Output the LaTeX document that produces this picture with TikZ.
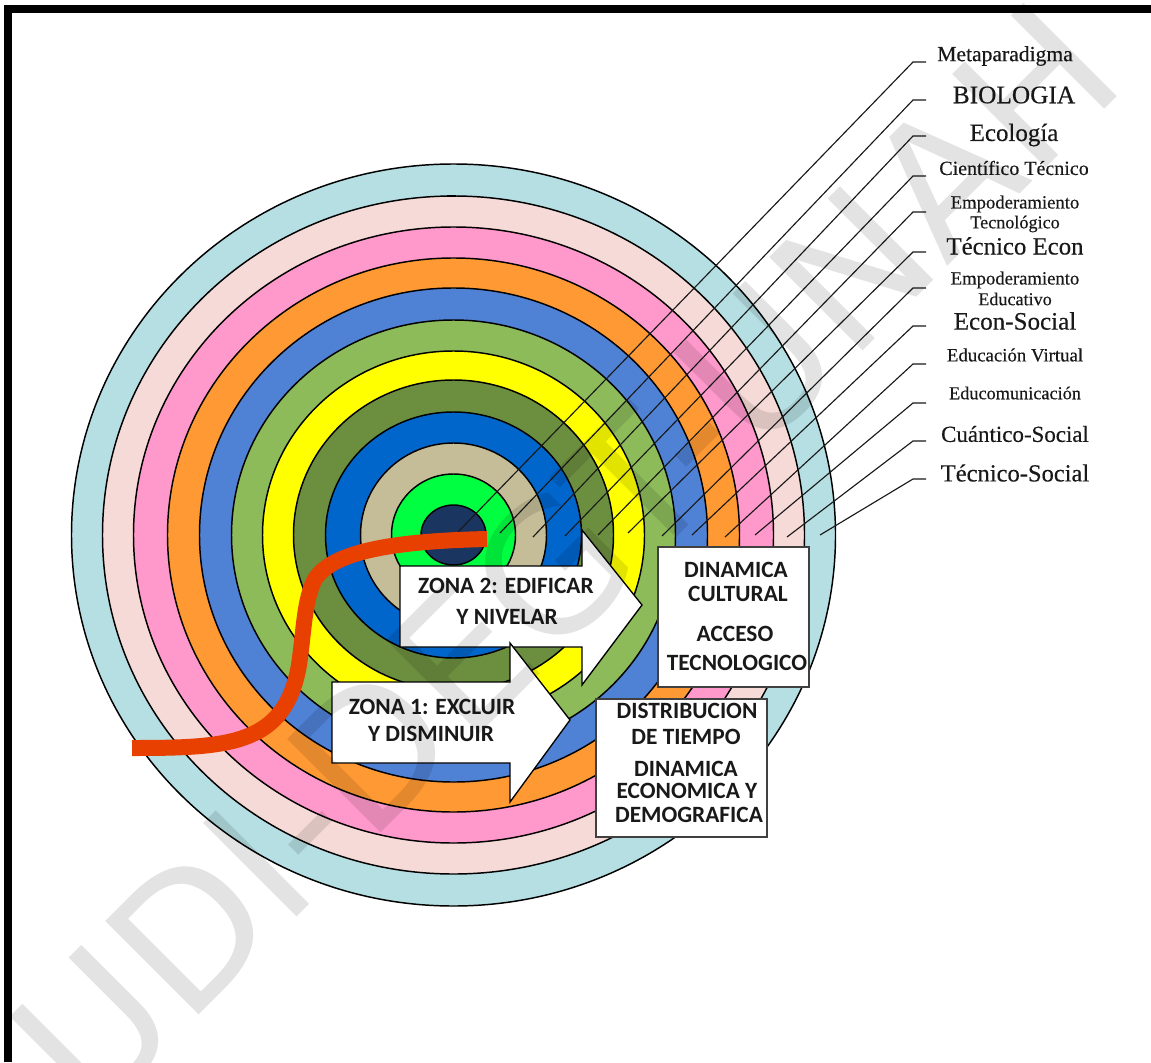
\documentclass[tikz,border=0pt]{standalone}
\usepackage{fontspec}
\setmainfont{Liberation Serif}
\newfontfamily\lblfont{Liberation Serif}[FakeBold=0.35]
\newfontfamily\boxfont{Carlito}[BoldFont={Carlito Bold}]
\newfontfamily\wmfont{DejaVu Sans}
\begin{document}
\begin{tikzpicture}[x=0.75pt,y=-0.75pt,
  ring/.style={draw=black,line width=1.1pt},
  leader/.style={draw=black!90,line width=0.85pt},
  arrowshape/.style={draw=black,line width=1pt,fill=white},
  infobox/.style={draw=black!75,line width=1.1pt,fill=white},
  lbl/.style={inner sep=0pt,font=\lblfont\fontsize{#1}{#1}\selectfont,text=black!90},
  boxtxt/.style={inner sep=0pt,font=\boxfont\bfseries\fontsize{17.5}{17.5}\selectfont,text=black!90},
]
\useasboundingbox (0,0) rectangle (1151,1062);
\fill[white] (0,0) rectangle (1151,1062);
% frame
\fill[black] (4,5) rectangle (1151,13);
\fill[black] (4,5) rectangle (12,1062);
% rings
\foreach \rx/\ry/\c in {382/371/B5DFE3,351/339/F6DAD7,320/308/FF99CC,286/277/FF9933,254/247/4F81D5,222/215/8DBB5A,191/184/FFFF00,160/155/6C8E3F,128/123/0066CC,93/92/C4BD97,62/61/00FF40,32.5/30/1A3560}{
  \definecolor{ringc}{HTML}{\c}
  \draw[ring,fill=ringc] (453.5,535) ellipse [x radius=\rx,y radius=\ry];
}
\draw[line width=1.6pt] (447,196) -- (456,196);
% leaders
\foreach \n/\sy/\ex/\ey in {1/62/458/532,2/100/500/533,3/136/533/537,4/176/565/536,5/212/598/535,6/252/628/533,7/288/662/536,8/326/692/535,9/364/725/537,10/403/755/535,11/441/787/537,12/479/820/535}{
  \coordinate (s\n) at (926,\sy);
  \coordinate (k\n) at (913,\sy);
  \coordinate (e\n) at (\ex,\ey);
  \draw[leader] (s\n) -- (k\n) -- (e\n);
}
% labels
\node[lbl=16.2] (t1) at (1005,56) {Metaparadigma};
\node[lbl=19] (t2) at (1014,95) {BIOLOGIA};
\node[lbl=18.7] (t3) at (1014,135) {Ecología};
\node[lbl=15] (t4) at (1014,168) {Científico Técnico};
\node[lbl=14] (t5a) at (1015,204) {Empoderamiento};
\node[lbl=13.6] (t5b) at (1015,224) {Tecnológico};
\node[lbl=18.6] (t6) at (1015,246) {Técnico Econ};
\node[lbl=14] (t7a) at (1015,280) {Empoderamiento};
\node[lbl=13.6] (t7b) at (1015,299) {Educativo};
\node[lbl=18.8] (t8) at (1015,321) {Econ-Social};
\node[lbl=14.1] (t9) at (1015,355) {Educación Virtual};
\node[lbl=13.7] (t10) at (1015,393) {Educomunicación};
\node[lbl=17.2] (t11) at (1015,434) {Cuántico-Social};
\node[lbl=18.4] (t12) at (1015,473) {Técnico-Social};
% red curve
\coordinate (ra) at (132,748);
\coordinate (rb) at (299,665);
\coordinate (rm) at (313,583);
\coordinate (rc) at (487,539);
\draw[draw={rgb,255:red,232;green,64;blue,0},line width=12pt] (ra) .. controls (230,748) and (285,745) .. (rb) .. controls (304,630) and (304,605) .. (rm) .. controls (328,550) and (400,541) .. (rc);
% arrows
\draw[arrowshape] (400,566) -- (582,566) -- (582,530) -- (642,605) -- (582,685) -- (582,647) -- (400,647) -- cycle;
\draw[arrowshape] (332,682) -- (510,682) -- (510,643) -- (570,720) -- (510,802) -- (510,763) -- (332,763) -- cycle;
\node[boxtxt] (z2a) at (506,586) {ZONA 2: EDIFICAR};
\node[boxtxt] (z2b) at (507,617) {Y NIVELAR};
\node[boxtxt] (z1a) at (432,707) {ZONA 1: EXCLUIR};
\node[boxtxt] (z1b) at (431,734) {Y DISMINUIR};
% boxes
\draw[infobox] (658,547) rectangle (809,687);
\draw[infobox] (596,699) rectangle (767,837);
\node[boxtxt] (b1) at (736,570) {DINAMICA};
\node[boxtxt] (b2) at (738,594) {CULTURAL};
\node[boxtxt] (b3) at (735,634) {ACCESO};
\node[boxtxt] (b4) at (737,663) {TECNOLOGICO};
\node[boxtxt] (c1) at (687,711) {DISTRIBUCION};
\node[boxtxt] (c2) at (686,737) {DE TIEMPO};
\node[boxtxt] (c3) at (686,769) {DINAMICA};
\node[boxtxt] (c4) at (687,791) {ECONOMICA Y};
\node[boxtxt] (c5) at (689,815) {DEMOGRAFICA};
% watermark
\begin{scope}
\clip (0,0) rectangle (1151,1062);
\node[rotate=45,anchor=base west,inner sep=0pt,text=black,text opacity=0.11,font=\wmfont\fontsize{136}{136}\selectfont] (wm) at (92,1122) {UDI-DEGT-UNAH};
\end{scope}
\end{tikzpicture}
\end{document}
